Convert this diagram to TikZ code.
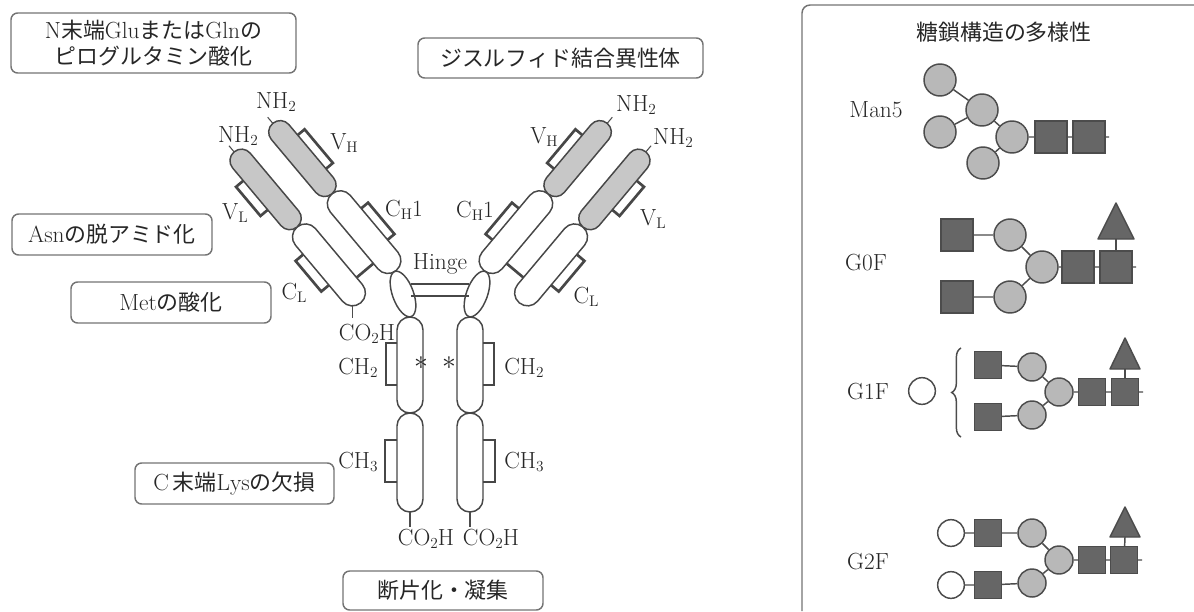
\documentclass[tikz,border=0pt]{standalone}
\usepackage{fontspec}
\usepackage{tikz}
\usetikzlibrary{decorations.pathreplacing}
\newfontfamily\jpfont[Scale=0.94]{Noto Sans CJK JP}
\newcommand{\jp}[1]{{\jpfont #1}}
\newcommand{\lowsub}[1]{\raisebox{-0.35ex}{\fontsize{11.5}{12}\selectfont #1}}

\begin{document}
\begin{tikzpicture}[x=0.75pt,y=0.75pt,yscale=-1,xscale=1,
  ink/.style={draw=black!72, line width=1.1pt},
  vardom/.style={ink, fill=black!22, rounded corners=8.5pt},
  constdom/.style={ink, fill=white, rounded corners=9.7pt},
  hingedom/.style={ink, fill=white},
  clamp/.style={draw=black!72, line width=2pt},
  ssbond/.style={draw=black!72, line width=2pt},
  tick/.style={draw=black!70, line width=0.8pt},
  lbl/.style={text=black!85, font=\fontsize{17.5}{20}\selectfont, inner sep=0pt},
  sitebox/.style={draw=black!55, line width=1.1pt, rounded corners=5pt, text=black!85,
    font=\fontsize{17.5}{19.5}\selectfont, align=center, inner sep=0pt},
  bond/.style={draw=black!70, line width=1.1pt},
  glcirc/.style={circle, draw=black!70, line width=1.1pt, fill=black!28, minimum size=24pt, inner sep=0pt},
  glsq/.style={rectangle, draw=black!70, line width=1.1pt, fill=black!60, minimum size=24pt, inner sep=0pt},
  glcircs/.style={glcirc, minimum size=21pt},
  glsqs/.style={glsq, minimum size=20pt},
  galopen/.style={circle, draw=black!70, line width=1.1pt, fill=white, minimum size=20pt, inner sep=0pt},
  fucose/.style={draw=black!70, line width=1.1pt, fill=black!60, line join=round}
]
\useasboundingbox (0,0) rectangle (1194,611);

%Antibody: Fab arms, hinge and Fc, drawn for both halves
\foreach \s in {1,-1}{
\begin{scope}[shift={(440,0)}, xscale=\s, shift={(-440,0)}]
  \begin{scope}[shift={(284,174)}, rotate=50]
    %Heavy and light chain domains
    \draw[constdom] (46,-37) rectangle (146,-11);
    \draw[constdom] (49,11) rectangle (148,37);
    \draw[vardom] (-46,-35.5) rectangle (46,-12.5);
    \draw[vardom] (-49,12.5) rectangle (49,35.5);
    %Interchain bond
    \draw[ssbond] (126,-11) -- (126,11);
    %Domain clamps
    \draw[clamp] (-21,-35.5) -- (-21,-44.5) -- (23,-44.5) -- (23,-35.5);
    \draw[clamp] (76,-37) -- (76,-46) -- (117,-46) -- (117,-37);
    \draw[clamp] (-21,35.5) -- (-21,45) -- (17,45) -- (17,35.5);
    \draw[clamp] (74,37) -- (74,47) -- (114,47) -- (114,37);
    %N-terminal ticks
    \draw[tick] (-46,-24) -- (-54,-24);
    \draw[tick] (-49,24) -- (-57,24);
  \end{scope}
  %Hinge
  \draw[hingedom, rotate around={-20:(403,294)}] (403,294) ellipse [x radius=10.5, y radius=24];
  %Fc domains
  \draw[constdom] (397,317) rectangle (423,413);
  \draw[constdom] (397,413) rectangle (423,512);
  \draw[clamp] (397,343) -- (386,343) -- (386,385) -- (397,385);
  \draw[clamp] (397,440) -- (385,440) -- (385,482) -- (397,482);
  \draw[tick] (410,512) -- (410,527);
\end{scope}
}

%Hinge bonds
\draw[ssbond] (411,284) -- (469,284);
\draw[ssbond] (411,296) -- (469,296);
%Light chain C-terminus
\draw[tick] (352.4,305.8) -- (352.4,318);

% Text Node
\node[lbl] (nhl) at (276,102) {NH\lowsub{2}};
\node[lbl] (nll) at (238,136) {NH\lowsub{2}};
\node[lbl] (vhl) at (344,143) {V\lowsub{H}};
\node[lbl] (vll) at (235,213) {V\lowsub{L}};
\node[lbl] (chl) at (404,210) {C\lowsub{H}1};
\node[lbl] (cll) at (294,293) {C\lowsub{L}};
\node[lbl] (nhr) at (636,105) {NH\lowsub{2}};
\node[lbl] (nlr) at (673,138) {NH\lowsub{2}};
\node[lbl] (vhr) at (544,137) {V\lowsub{H}};
\node[lbl] (vlr) at (653,219) {V\lowsub{L}};
\node[lbl] (chr) at (475,211) {C\lowsub{H}1};
\node[lbl] (clr) at (586,297) {C\lowsub{L}};
\node[lbl] (hinge) at (440,264) {Hinge};
\node[lbl] (coli) at (367,334) {CO\lowsub{2}H};
\node[lbl] (ch2l) at (358,368) {CH\lowsub{2}};
\node[lbl] (ch2r) at (524,368) {CH\lowsub{2}};
\node[lbl] (ch3l) at (358,462) {CH\lowsub{3}};
\node[lbl] (ch3r) at (524,462) {CH\lowsub{3}};
\node[lbl] (cofl) at (426,539) {CO\lowsub{2}H};
\node[lbl] (cofr) at (491,539) {CO\lowsub{2}H};
\node[lbl, font=\fontsize{20}{20}\selectfont] (glyl) at (421,363) {$\ast$};
\node[lbl, font=\fontsize{20}{20}\selectfont] (glyr) at (449,363) {$\ast$};

%Modification boxes
\node[sitebox, minimum width=213.75pt, minimum height=45pt] (pyroglu) at (153.5,43)
  {N\jp{末端}Glu\jp{または}Gln\jp{の}\\ \jp{ピログルタミン酸化}};
\node[sitebox, minimum width=213.75pt, minimum height=30pt] (sslink) at (560.5,58) {\jp{ジスルフィド結合異性体}};
\node[sitebox, minimum width=150pt, minimum height=30.75pt] (deamid) at (112,234.5) {Asn\jp{の脱アミド化}};
\node[sitebox, minimum width=150pt, minimum height=30.75pt] (metox) at (171,302.5) {Met\jp{の酸化}};
\node[sitebox, minimum width=149.25pt, minimum height=30.75pt] (lysloss) at (234.5,483.5) {C\,\jp{末端}Lys\jp{の欠損}};
\node[sitebox, minimum width=150pt, minimum height=29.25pt] (frag) at (443,590.5) {\jp{断片化・凝集}};

%Glycan panel
\draw[draw=black!55, line width=1.1pt, rounded corners=6pt] (1194,5) -- (802,5) -- (802,611);
\node[lbl, font=\fontsize{17.5}{20}\selectfont\jpfont] (gtitle) at (1004,32) {糖鎖構造の多様性};

%Man5
\node[lbl] (man5) at (876,110) {Man5};
\node[glcirc] (m5a) at (940,80) {};
\node[glcirc] (m5b) at (982,110) {};
\node[glcirc] (m5c) at (940,132) {};
\node[glcirc] (m5d) at (1012,137) {};
\node[glcirc] (m5e) at (983,163) {};
\node[glsq] (m5f) at (1051,137) {};
\node[glsq] (m5g) at (1089,137) {};
\coordinate (m5r) at (1109,137);
\draw[bond] (m5a) -- (m5b) -- (m5d) -- (m5f) -- (m5g) -- (m5r);
\draw[bond] (m5c) -- (m5b);
\draw[bond] (m5e) -- (m5d);

%G0F
\node[lbl] (g0fl) at (866,263) {G0F};
\node[glsq] (g0a) at (957,235) {};
\node[glcirc] (g0b) at (1010,235) {};
\node[glcirc] (g0c) at (1042,267) {};
\node[glsq] (g0d) at (1078,267) {};
\node[glsq] (g0e) at (1116,267) {};
\node[glsq] (g0f) at (957,297) {};
\node[glcirc] (g0g) at (1010,297) {};
\coordinate (g0r) at (1136,267);
\draw[fucose] (1098,239) -- (1116,203) -- (1134,239) -- cycle;
\coordinate (g0t) at (1116,239);
\draw[bond] (g0a) -- (g0b) -- (g0c) -- (g0d) -- (g0e) -- (g0r);
\draw[bond] (g0f) -- (g0g) -- (g0c);
\draw[bond] (g0e) -- (g0t);

%G1F
\node[lbl] (g1fl) at (868,392) {G1F};
\node[galopen] (g1o) at (922,391) {};
\draw[bond, decorate, decoration={brace, amplitude=7pt}] (961,437) -- (961,348);
\node[glsqs] (g1a) at (988,365) {};
\node[glcircs] (g1b) at (1032,367) {};
\node[glcircs] (g1c) at (1059,392) {};
\node[glsqs] (g1d) at (1092,392) {};
\node[glsqs] (g1e) at (1125,392) {};
\node[glsqs] (g1f) at (988,417) {};
\node[glcircs] (g1g) at (1032,415) {};
\coordinate (g1r) at (1143,392);
\draw[fucose] (1110,369) -- (1125,338) -- (1140,369) -- cycle;
\coordinate (g1t) at (1125,369);
\draw[bond] (g1a) -- (g1b) -- (g1c) -- (g1d) -- (g1e) -- (g1r);
\draw[bond] (g1f) -- (g1g) -- (g1c);
\draw[bond] (g1e) -- (g1t);

%G2F
\node[lbl] (g2fl) at (868,562) {G2F};
\node[galopen] (g2o) at (951,533) {};
\node[glsqs] (g2a) at (988,533) {};
\node[glcircs] (g2b) at (1032,533) {};
\node[glcircs] (g2c) at (1059,560) {};
\node[glsqs] (g2d) at (1092,560) {};
\node[glsqs] (g2e) at (1124,560) {};
\node[galopen] (g2p) at (951,585) {};
\node[glsqs] (g2f) at (988,585) {};
\node[glcircs] (g2g) at (1032,583) {};
\coordinate (g2r) at (1142,560);
\draw[fucose] (1110,537) -- (1125,507) -- (1140,537) -- cycle;
\coordinate (g2t) at (1125,537);
\draw[bond] (g2o) -- (g2a) -- (g2b) -- (g2c) -- (g2d) -- (g2e) -- (g2r);
\draw[bond] (g2p) -- (g2f) -- (g2g) -- (g2c);
\draw[bond] (g2e) -- (g2t);

\end{tikzpicture}
\end{document}
